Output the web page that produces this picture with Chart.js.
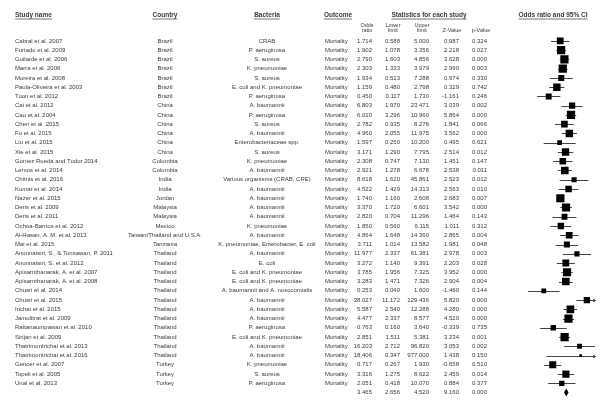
<!DOCTYPE html>
<html>
<head>
<meta charset="utf-8">
<script src="https://cdn.jsdelivr.net/npm/chart.js@4.4.1/dist/chart.umd.min.js"></script>
<style>
  body { margin: 0; background: #fff; }
</style>
</head>
<body>
<canvas id="forestChart" width="601" height="403"></canvas>
<script>
// study rows, top to bottom
const studies = [
  'Cabral et al. 2007', 'Furtado et al. 2009', 'Guilarde et al. 2006', 'Marra et al. 2006',
  'Moreira et al. 2008', 'Paula-Oliveira et al. 2003', 'Tuon et al. 2012',
  'Cai et al. 2012', 'Cao et al. 2004', 'Chen et al. 2015', 'Fu et al. 2015', 'Liu et al. 2015', 'Xie et al. 2015',
  'Gomez Rueda and Tudor 2014', 'Lemos et al. 2014',
  'Chitnis et al. 2016', 'Kumar et al. 2014',
  'Nazer et al. 2015',
  'Deris et al. 2009', 'Deris et al. 2011',
  'Ochoa-Barrios et al. 2012',
  'Al-Hasan, A. M. et al. 2013',
  'Mai et al. 2015',
  'Anunnatsiri, S., & Tonsawan, P. 2011', 'Anunnatsiri, S. et al. 2012',
  'Apisarnthanarak, A. et al. 2007', 'Apisarnthanarak, A. et al. 2008',
  'Chusri et al. 2014', 'Chusri et al. 2015', 'Inchai et al. 2015', 'Jamulitrat et al. 2009',
  'Rattanaumpawan et al. 2010', 'Sirijan et al. 2009',
  'Thatrimontrichai et al. 2013', 'Thatrimontrichai et al. 2016',
  'Gencer et al. 2007', 'Topeli et al. 2005', 'Unal et al. 2013'
];

const countries = [
  'Brazil', 'Brazil', 'Brazil', 'Brazil', 'Brazil', 'Brazil', 'Brazil',
  'China', 'China', 'China', 'China', 'China', 'China',
  'Colombia', 'Colombia',
  'India', 'India',
  'Jordan',
  'Malaysia', 'Malaysia',
  'Mexico',
  'Taiwan/Thailand and U.S.A.',
  'Tanzania',
  'Thailand', 'Thailand', 'Thailand', 'Thailand', 'Thailand', 'Thailand',
  'Thailand', 'Thailand', 'Thailand', 'Thailand', 'Thailand', 'Thailand',
  'Turkey', 'Turkey', 'Turkey'
];

const bacteria = [
  'CRAB', 'P. aeruginosa', 'S. aureus', 'K. pneumoniae', 'S. aureus',
  'E. coli and K. pneumoniae', 'P. aeruginosa',
  'A. baumannii', 'P. aeruginosa', 'S. aureus', 'A. baumannii', 'Enterobacteriaceae spp.', 'S. aureus',
  'K. pneumoniae', 'A. baumannii',
  'Various organisms (CRAB, CRE)', 'A. baumannii',
  'A. baumannii',
  'A. baumannii', 'A. baumannii',
  'K. pneumoniae',
  'A. baumannii',
  'K. pneumoniae, Enterobacter, E. coli',
  'A. baumannii', 'E. coli', 'E. coli and K. pneumoniae', 'E. coli and K. pneumoniae',
  'A. baumannii and A. nosocomialis', 'A. baumannii', 'A. baumannii', 'A. baumannii',
  'P. aeruginosa', 'E. coli and K. pneumoniae', 'A. baumannii', 'A. baumannii',
  'K. pneumoniae', 'S. aureus', 'P. aeruginosa'
];

const outcome = 'Mortality';

const oddsRatio = [
  1.714, 1.902, 2.790, 2.303, 1.934, 1.159, 0.450,
  6.803, 6.010, 2.782, 4.960, 1.597, 3.171,
  2.308, 2.921,
  8.618, 4.522,
  1.740,
  3.370, 2.820,
  1.850,
  4.864,
  3.711,
  11.977, 3.272, 3.785, 3.283,
  0.253, 38.027, 5.587, 4.477,
  0.763, 2.851, 16.203, 18.406,
  0.717, 3.316, 2.051
];

const lowerLimit = [
  0.588, 1.078, 1.603, 1.333, 0.513, 0.480, 0.117,
  1.970, 3.296, 0.935, 2.055, 0.250, 1.290,
  0.747, 1.278,
  1.620, 1.429,
  1.160,
  1.720, 0.704,
  0.560,
  1.648,
  1.014,
  2.337, 1.140, 1.956, 1.471,
  0.040, 11.172, 2.540, 2.337,
  0.160, 1.511, 2.712, 0.347,
  0.267, 1.275, 0.418
];

const upperLimit = [
  5.000, 3.356, 4.856, 3.979, 7.288, 2.798, 1.730,
  23.471, 10.960, 8.276, 11.975, 10.200, 7.795,
  7.130, 6.678,
  45.861, 14.313,
  2.608,
  6.601, 11.296,
  6.115,
  14.360,
  13.582,
  61.381, 9.391, 7.325, 7.326,
  1.600, 129.436, 12.288, 8.577,
  3.640, 5.381, 96.820, 977.000,
  1.930, 8.622, 10.070
];

const zValue = [
  0.987, 2.218, 3.628, 2.990, 0.974, 0.329, -1.161,
  3.039, 5.864, 1.841, 3.562, 0.495, 2.514,
  1.451, 2.538,
  2.523, 2.563,
  2.683,
  3.542, 1.464,
  1.011,
  2.865,
  1.981,
  2.978, 2.203, 3.952, 2.904,
  -1.460, 5.820, 4.280, 4.520,
  -0.339, 3.234, 3.053, 1.438,
  -0.658, 2.459, 0.884
];

const pValue = [
  0.324, 0.027, 0.000, 0.003, 0.330, 0.742, 0.246,
  0.002, 0.000, 0.066, 0.000, 0.621, 0.012,
  0.147, 0.011,
  0.012, 0.010,
  0.007,
  0.000, 0.143,
  0.312,
  0.004,
  0.048,
  0.003, 0.028, 0.000, 0.004,
  0.144, 0.000, 0.000, 0.000,
  0.735, 0.001, 0.002, 0.150,
  0.510, 0.014, 0.377
];

// pooled estimate: odds ratio, lower, upper, Z, p
const summaryStats = [3.465, 2.656, 4.520, 9.160, 0.000];

const statHeaders = [['Odds', 'ratio'], ['Lower', 'limit'], ['Upper', 'limit'], ['Z-Value'], ['p-Value']];

// table layout
const FONT = '"Liberation Sans", Arial, sans-serif';
const TEXT_COLOR = '#3a3a3a';
const colStudy = 15;
const colCountry = 165;
const colBacteria = 267;
const colOutcome = 325;
const statRight = [372, 400, 429, 459, 487];
const statCenter = [367, 393, 422, 452, 481];

// box size from the row's standard error (random-effects style weighting)
const boxRadius = oddsRatio.map((v, i) => {
  const se = (Math.log(upperLimit[i]) - Math.log(lowerLimit[i])) / 3.92;
  const w = 1 / (se * se + 0.3);
  return Math.max(1.8, Math.min(5.8, 3.7 * Math.sqrt(w)));
});

const summaryRow = studies.length;

const ciLinesPlugin = {
  id: 'ciLines',
  beforeDatasetsDraw: (chart) => {
    const {ctx, scales: {x, y}} = chart;
    ctx.save();
    ctx.strokeStyle = '#444';
    ctx.fillStyle = '#444';
    ctx.lineWidth = 1;
    studies.forEach((s, i) => {
      const lo = Math.max(lowerLimit[i], x.min);
      const hi = Math.min(upperLimit[i], x.max);
      const x1 = x.getPixelForValue(lo);
      const x2 = x.getPixelForValue(hi);
      const py = Math.round(y.getPixelForValue(i)) + 0.5;
      ctx.beginPath();
      ctx.moveTo(x1, py);
      ctx.lineTo(x2, py);
      ctx.stroke();
      if (upperLimit[i] > x.max) {
        ctx.beginPath();
        ctx.moveTo(x2 + 1, py);
        ctx.lineTo(x2 - 2, py - 2);
        ctx.lineTo(x2 - 2, py + 2);
        ctx.closePath();
        ctx.fill();
      }
    });
    ctx.restore();
  },
  afterDatasetsDraw: (chart) => {
    // pooled diamond
    const {ctx, scales: {x, y}} = chart;
    const xl = x.getPixelForValue(summaryStats[1]);
    const xc = x.getPixelForValue(summaryStats[0]);
    const xr = x.getPixelForValue(summaryStats[2]);
    const py = y.getPixelForValue(summaryRow);
    ctx.save();
    ctx.fillStyle = '#000';
    ctx.beginPath();
    ctx.moveTo(xl, py);
    ctx.lineTo(xc, py - 4);
    ctx.lineTo(xr, py);
    ctx.lineTo(xc, py + 4);
    ctx.closePath();
    ctx.fill();
    ctx.restore();
  }
};

function underline(ctx, text, x, y, align) {
  const w = ctx.measureText(text).width;
  const left = align === 'center' ? x - w / 2 : x;
  ctx.beginPath();
  ctx.moveTo(left, y + 4);
  ctx.lineTo(left + w, y + 4);
  ctx.stroke();
}

const tablePlugin = {
  id: 'forestTable',
  afterDraw: (chart) => {
    const {ctx, scales: {y}} = chart;
    ctx.save();
    ctx.fillStyle = TEXT_COLOR;
    ctx.strokeStyle = TEXT_COLOR;
    ctx.lineWidth = 0.7;
    ctx.textBaseline = 'middle';

    // column headers
    const hy = 15;
    ctx.font = 'bold 6.5px ' + FONT;
    ctx.textAlign = 'left';
    ctx.fillText('Study name', colStudy, hy);
    underline(ctx, 'Study name', colStudy, hy, 'left');
    ctx.textAlign = 'center';
    [['Country', colCountry], ['Bacteria', colBacteria], ['Outcome', 338],
     ['Statistics for each study', 429], ['Odds ratio and 95% CI', 553]].forEach(([t, cx]) => {
      ctx.fillText(t, cx, hy);
      underline(ctx, t, cx, hy, 'center');
    });

    ctx.font = '5.5px ' + FONT;
    statHeaders.forEach((lines, k) => {
      if (lines.length === 2) {
        ctx.fillText(lines[0], statCenter[k], 25);
        ctx.fillText(lines[1], statCenter[k], 30.5);
      } else {
        ctx.fillText(lines[0], statCenter[k], 30.5);
      }
    });

    // study rows
    ctx.font = '6px ' + FONT;
    studies.forEach((s, i) => {
      const py = y.getPixelForValue(i);
      ctx.textAlign = 'left';
      ctx.fillText(s, colStudy, py);
      ctx.fillText(outcome, colOutcome, py);
      ctx.textAlign = 'center';
      ctx.fillText(countries[i], colCountry, py);
      ctx.fillText(bacteria[i], colBacteria, py);
      ctx.textAlign = 'right';
      [oddsRatio[i], lowerLimit[i], upperLimit[i], zValue[i], pValue[i]].forEach((v, k) => {
        ctx.fillText(v.toFixed(3), statRight[k], py);
      });
    });

    // pooled row
    const sy = y.getPixelForValue(summaryRow);
    ctx.textAlign = 'right';
    summaryStats.forEach((v, k) => ctx.fillText(v.toFixed(3), statRight[k], sy));
    ctx.restore();
  }
};

const ctx = document.getElementById('forestChart').getContext('2d');
const forestChart = new Chart(ctx, {
  type: 'scatter',
  data: {
    datasets: [{
      label: 'Odds ratio',
      data: oddsRatio.map((v, i) => ({x: v, y: i})),
      pointStyle: 'rect',
      pointRadius: boxRadius,
      pointHoverRadius: boxRadius,
      backgroundColor: '#000',
      borderWidth: 0
    }]
  },
  options: {
    responsive: false,
    animation: false,
    layout: {padding: {left: 516, right: 5, top: 36.3, bottom: 0}},
    scales: {
      x: {type: 'logarithmic', min: 0.01, max: 100, display: false},
      y: {type: 'linear', min: -0.5, max: studies.length + 0.5, reverse: true, display: false}
    },
    plugins: {
      legend: {display: false},
      tooltip: {enabled: false}
    }
  },
  plugins: [ciLinesPlugin, tablePlugin]
});
</script>
</body>
</html>
